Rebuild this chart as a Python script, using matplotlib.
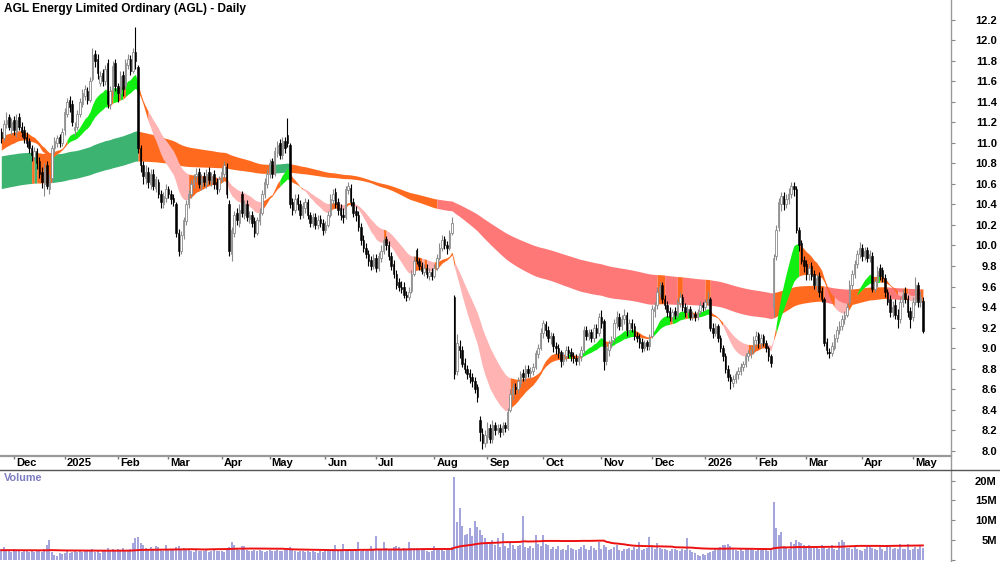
import numpy as np
import pandas as pd
import matplotlib
matplotlib.use('Agg')
import matplotlib.pyplot as plt
from matplotlib.lines import Line2D

plt.rcParams['font.family'] = ['Liberation Sans', 'DejaVu Sans']

title = 'AGL Energy Limited Ordinary (AGL) - Daily'
first_day = '2024-11-25'
last_day = '2026-05-07'
asx_holidays = ['2024-12-25', '2024-12-26', '2025-01-01', '2025-01-27', '2025-04-18',
                '2025-04-21', '2025-04-25', '2025-06-09', '2025-12-25', '2025-12-26',
                '2026-01-01', '2026-01-26', '2026-04-03', '2026-04-06']

# daily prices (one row per two weeks)
opens = [
    11.10, 11.05, 11.18, 11.25, 11.12, 11.22, 11.10, 11.25, 11.15, 11.12,
    11.06, 11.02, 10.95, 10.86, 10.92, 10.82, 10.72, 10.60, 10.78, 10.55,
    10.66, 10.95, 11.00, 11.06, 11.00, 11.12, 11.28, 11.42, 11.38, 11.12,
    11.15, 11.28, 11.38, 11.46, 11.50, 11.42, 11.62, 11.86, 11.82, 11.58,
    11.68, 11.60, 11.78, 11.38, 11.50, 11.78, 11.55, 11.48, 11.66, 11.55,
    11.76, 11.82, 11.70, 11.88, 11.74, 10.95, 10.78, 10.66, 10.72, 10.60,
    10.70, 10.56, 10.62, 10.50, 10.40, 10.46, 10.55, 10.50, 10.46, 10.40,
    10.12, 9.95, 10.10, 10.24, 10.40, 10.50, 10.60, 10.68, 10.72, 10.58,
    10.68, 10.60, 10.72, 10.62, 10.70, 10.62, 10.55, 10.65, 10.70, 10.76,
    10.40, 9.92, 10.12, 10.32, 10.22, 10.50, 10.30, 10.40, 10.26, 10.30,
    10.24, 10.12, 10.24, 10.32, 10.50, 10.60, 10.70, 10.82, 10.70, 10.90,
    11.00, 10.88, 11.02, 11.08, 10.98, 10.42, 10.35, 10.46, 10.40, 10.30,
    10.36, 10.42, 10.30, 10.22, 10.28, 10.20, 10.26, 10.22, 10.15, 10.20,
    10.30, 10.44, 10.52, 10.42, 10.36, 10.30, 10.28, 10.54, 10.56, 10.42,
    10.34, 10.30, 10.18, 10.05, 9.98, 9.92, 9.86, 9.80, 9.88, 9.78,
    9.88, 9.95, 10.06, 10.00, 9.90, 9.82, 9.72, 9.64, 9.60, 9.60,
    9.52, 9.50, 9.56, 9.72, 9.96, 9.85, 9.80, 9.74, 9.78, 9.70,
    9.74, 9.70, 9.78, 9.88, 9.98, 10.06, 10.00, 9.98, 10.12, 9.50,
    8.78, 9.02, 8.98, 8.86, 8.80, 8.76, 8.72, 8.68, 8.62, 8.30,
    8.16, 8.08, 8.14, 8.22, 8.12, 8.25, 8.20, 8.22, 8.18, 8.25,
    8.22, 8.40, 8.55, 8.62, 8.60, 8.66, 8.76, 8.72, 8.80, 8.76,
    8.78, 8.82, 8.94, 9.00, 9.15, 9.24, 9.18, 9.10, 9.12, 9.02,
    9.00, 8.96, 8.88, 8.92, 8.98, 8.96, 8.92, 8.90, 8.88, 8.92,
    8.98, 9.18, 9.12, 9.16, 9.10, 9.20, 9.15, 9.30, 9.26, 8.88,
    8.98, 9.05, 9.10, 9.25, 9.30, 9.22, 9.28, 9.32, 9.18, 9.25,
    9.22, 9.12, 9.10, 9.06, 9.00, 9.06, 9.02, 9.12, 9.36, 9.42,
    9.55, 9.62, 9.48, 9.42, 9.36, 9.30, 9.36, 9.32, 9.44, 9.50,
    9.40, 9.35, 9.38, 9.30, 9.33, 9.30, 9.36, 9.42, 9.40, 9.45,
    9.48, 9.20, 9.15, 9.22, 9.10, 9.00, 8.92, 8.80, 8.72, 8.66,
    8.70, 8.75, 8.78, 8.82, 8.85, 8.92, 8.95, 8.98, 9.08, 9.14,
    9.05, 9.12, 9.05, 9.00, 8.92, 9.40, 9.90, 10.18, 10.40, 10.48,
    10.40, 10.45, 10.50, 10.58, 10.55, 10.15, 10.02, 9.86, 9.82, 9.72,
    9.80, 9.72, 9.62, 9.70, 9.56, 9.48, 9.06, 8.96, 8.95, 9.00,
    9.10, 9.18, 9.22, 9.28, 9.32, 9.45, 9.62, 9.72, 9.82, 9.92,
    9.98, 9.90, 9.96, 9.88, 9.90, 9.58, 9.65, 9.78, 9.76, 9.68,
    9.55, 9.48, 9.35, 9.42, 9.32, 9.28, 9.45, 9.54, 9.48, 9.36,
    9.30, 9.45, 9.62, 9.45, 9.46,
]
highs = [
    11.14, 11.22, 11.30, 11.28, 11.24, 11.26, 11.28, 11.29, 11.20, 11.16,
    11.10, 11.05, 10.98, 10.96, 10.95, 10.86, 10.76, 10.80, 10.82, 10.70,
    10.98, 11.06, 11.08, 11.09, 11.14, 11.34, 11.44, 11.46, 11.42, 11.20,
    11.32, 11.44, 11.52, 11.56, 11.54, 11.64, 11.92, 11.90, 11.86, 11.70,
    11.72, 11.76, 11.82, 11.55, 11.80, 11.82, 11.58, 11.70, 11.70, 11.82,
    11.86, 11.85, 11.92, 12.13, 11.76, 10.98, 10.82, 10.78, 10.76, 10.74,
    10.74, 10.68, 10.65, 10.54, 10.52, 10.60, 10.58, 10.54, 10.50, 10.42,
    10.16, 10.14, 10.28, 10.44, 10.54, 10.64, 10.70, 10.75, 10.75, 10.70,
    10.72, 10.74, 10.76, 10.72, 10.73, 10.66, 10.68, 10.76, 10.82, 10.80,
    10.44, 10.18, 10.34, 10.36, 10.40, 10.53, 10.44, 10.44, 10.34, 10.34,
    10.28, 10.28, 10.36, 10.54, 10.66, 10.74, 10.84, 10.85, 10.96, 11.02,
    11.04, 11.06, 11.06, 11.24, 11.00, 10.46, 10.50, 10.50, 10.44, 10.42,
    10.46, 10.45, 10.33, 10.32, 10.32, 10.30, 10.30, 10.26, 10.24, 10.34,
    10.50, 10.55, 10.56, 10.46, 10.40, 10.36, 10.58, 10.62, 10.60, 10.46,
    10.38, 10.34, 10.22, 10.10, 10.02, 9.96, 9.90, 9.92, 9.92, 9.94,
    10.00, 10.08, 10.09, 10.04, 9.94, 9.86, 9.76, 9.68, 9.65, 9.64,
    9.56, 9.60, 9.76, 9.90, 9.98, 9.88, 9.84, 9.82, 9.82, 9.78,
    9.78, 9.82, 9.92, 10.02, 10.10, 10.09, 10.04, 10.15, 10.28, 9.52,
    9.14, 9.08, 9.02, 8.90, 8.84, 8.80, 8.76, 8.72, 8.65, 8.34,
    8.22, 8.20, 8.28, 8.26, 8.30, 8.28, 8.26, 8.26, 8.28, 8.28,
    8.42, 8.60, 8.66, 8.66, 8.72, 8.78, 8.80, 8.84, 8.84, 8.82,
    8.86, 8.98, 9.04, 9.20, 9.27, 9.26, 9.22, 9.16, 9.15, 9.06,
    9.04, 8.98, 8.96, 9.02, 9.02, 9.00, 8.96, 8.94, 8.95, 9.02,
    9.22, 9.22, 9.19, 9.19, 9.24, 9.24, 9.34, 9.37, 9.28, 9.04,
    9.08, 9.12, 9.28, 9.36, 9.34, 9.32, 9.38, 9.35, 9.28, 9.28,
    9.25, 9.16, 9.14, 9.10, 9.08, 9.08, 9.14, 9.42, 9.45, 9.60,
    9.64, 9.64, 9.52, 9.46, 9.40, 9.38, 9.40, 9.48, 9.55, 9.53,
    9.44, 9.42, 9.41, 9.36, 9.36, 9.38, 9.46, 9.45, 9.48, 9.56,
    9.50, 9.25, 9.25, 9.24, 9.13, 9.03, 8.95, 8.84, 8.75, 8.74,
    8.78, 8.82, 8.86, 8.88, 8.95, 8.98, 9.02, 9.12, 9.17, 9.16,
    9.14, 9.14, 9.08, 9.02, 8.94, 9.92, 10.20, 10.46, 10.52, 10.52,
    10.50, 10.56, 10.62, 10.62, 10.58, 10.18, 10.05, 9.90, 9.86, 9.82,
    9.84, 9.76, 9.72, 9.74, 9.60, 9.50, 9.10, 9.00, 9.06, 9.14,
    9.22, 9.26, 9.32, 9.36, 9.44, 9.66, 9.76, 9.86, 9.96, 10.03,
    10.01, 9.99, 9.99, 9.96, 9.94, 9.68, 9.80, 9.82, 9.79, 9.72,
    9.58, 9.52, 9.46, 9.48, 9.38, 9.50, 9.58, 9.60, 9.52, 9.40,
    9.50, 9.69, 9.64, 9.56, 9.50,
]
lows = [
    11.00, 11.02, 11.14, 11.12, 11.08, 11.08, 11.06, 11.12, 11.06, 11.00,
    10.96, 10.90, 10.82, 10.83, 10.74, 10.66, 10.56, 10.48, 10.55, 10.50,
    10.62, 10.90, 10.96, 10.96, 10.97, 11.08, 11.25, 11.30, 11.16, 11.08,
    11.12, 11.25, 11.35, 11.42, 11.38, 11.40, 11.60, 11.74, 11.62, 11.55,
    11.55, 11.56, 11.34, 11.33, 11.46, 11.50, 11.40, 11.44, 11.46, 11.52,
    11.72, 11.66, 11.68, 11.72, 10.90, 10.72, 10.60, 10.60, 10.56, 10.55,
    10.54, 10.52, 10.46, 10.36, 10.36, 10.42, 10.46, 10.40, 10.38, 10.08,
    9.90, 9.92, 10.06, 10.20, 10.36, 10.46, 10.56, 10.62, 10.56, 10.54,
    10.58, 10.56, 10.60, 10.58, 10.55, 10.50, 10.52, 10.62, 10.66, 10.46,
    9.90, 9.85, 10.08, 10.20, 10.18, 10.28, 10.26, 10.24, 10.22, 10.18,
    10.08, 10.10, 10.20, 10.30, 10.46, 10.56, 10.66, 10.66, 10.68, 10.86,
    10.84, 10.84, 10.90, 10.96, 10.36, 10.30, 10.32, 10.35, 10.26, 10.27,
    10.32, 10.26, 10.18, 10.18, 10.16, 10.16, 10.18, 10.10, 10.12, 10.18,
    10.28, 10.40, 10.36, 10.30, 10.25, 10.22, 10.26, 10.50, 10.38, 10.28,
    10.24, 10.14, 10.00, 9.94, 9.88, 9.80, 9.76, 9.77, 9.74, 9.75,
    9.84, 9.92, 9.96, 9.86, 9.76, 9.68, 9.58, 9.56, 9.54, 9.49,
    9.46, 9.47, 9.54, 9.70, 9.82, 9.76, 9.72, 9.70, 9.68, 9.66,
    9.66, 9.68, 9.76, 9.86, 9.95, 9.97, 9.92, 9.96, 10.10, 8.70,
    8.74, 8.90, 8.82, 8.76, 8.70, 8.66, 8.62, 8.56, 8.48, 8.10,
    8.02, 8.04, 8.08, 8.08, 8.08, 8.15, 8.16, 8.14, 8.15, 8.18,
    8.20, 8.38, 8.50, 8.55, 8.56, 8.62, 8.68, 8.68, 8.72, 8.71,
    8.74, 8.80, 8.90, 8.98, 9.10, 9.12, 9.06, 9.04, 8.96, 8.94,
    8.90, 8.82, 8.84, 8.88, 8.90, 8.88, 8.86, 8.84, 8.84, 8.88,
    8.95, 9.08, 9.08, 9.06, 9.06, 9.10, 9.12, 9.20, 8.79, 8.84,
    8.92, 9.00, 9.06, 9.20, 9.18, 9.18, 9.24, 9.12, 9.14, 9.16,
    9.08, 9.06, 9.00, 8.96, 8.97, 8.98, 8.98, 9.10, 9.30, 9.38,
    9.50, 9.44, 9.38, 9.30, 9.26, 9.26, 9.28, 9.30, 9.40, 9.36,
    9.30, 9.32, 9.27, 9.27, 9.26, 9.27, 9.33, 9.36, 9.37, 9.42,
    9.17, 9.10, 9.12, 9.06, 8.96, 8.88, 8.76, 8.68, 8.60, 8.62,
    8.66, 8.70, 8.74, 8.78, 8.82, 8.88, 8.90, 8.94, 9.02, 9.00,
    9.00, 9.02, 8.96, 8.88, 8.82, 9.30, 9.86, 10.14, 10.34, 10.35,
    10.36, 10.40, 10.46, 10.48, 10.12, 9.95, 9.82, 9.74, 9.66, 9.66,
    9.66, 9.58, 9.56, 9.50, 9.45, 9.02, 8.94, 8.90, 8.92, 8.98,
    9.06, 9.14, 9.18, 9.24, 9.30, 9.42, 9.58, 9.68, 9.78, 9.88,
    9.85, 9.86, 9.84, 9.84, 9.55, 9.55, 9.60, 9.66, 9.64, 9.50,
    9.42, 9.30, 9.30, 9.28, 9.20, 9.25, 9.40, 9.44, 9.30, 9.20,
    9.26, 9.42, 9.40, 9.40, 9.15,
]
closes = [
    11.05, 11.18, 11.22, 11.15, 11.20, 11.12, 11.22, 11.15, 11.10, 11.05,
    11.00, 10.95, 10.88, 10.92, 10.80, 10.70, 10.62, 10.75, 10.58, 10.65,
    10.95, 11.02, 11.05, 11.00, 11.10, 11.30, 11.40, 11.35, 11.20, 11.15,
    11.28, 11.40, 11.48, 11.52, 11.42, 11.60, 11.85, 11.80, 11.68, 11.65,
    11.60, 11.72, 11.38, 11.50, 11.75, 11.55, 11.48, 11.65, 11.52, 11.78,
    11.82, 11.70, 11.88, 11.80, 10.95, 10.78, 10.68, 10.72, 10.62, 10.70,
    10.58, 10.65, 10.50, 10.42, 10.48, 10.55, 10.50, 10.45, 10.42, 10.12,
    9.95, 10.10, 10.25, 10.40, 10.50, 10.60, 10.65, 10.70, 10.60, 10.66,
    10.62, 10.70, 10.64, 10.68, 10.60, 10.55, 10.65, 10.72, 10.78, 10.50,
    9.95, 10.15, 10.30, 10.25, 10.35, 10.32, 10.40, 10.28, 10.30, 10.22,
    10.12, 10.25, 10.32, 10.50, 10.62, 10.70, 10.80, 10.70, 10.92, 10.98,
    10.88, 11.02, 10.95, 11.00, 10.40, 10.35, 10.45, 10.40, 10.30, 10.38,
    10.42, 10.30, 10.22, 10.28, 10.20, 10.25, 10.22, 10.15, 10.20, 10.30,
    10.45, 10.50, 10.40, 10.35, 10.30, 10.28, 10.55, 10.58, 10.42, 10.32,
    10.30, 10.18, 10.05, 9.98, 9.92, 9.85, 9.80, 9.88, 9.78, 9.90,
    9.95, 10.05, 10.00, 9.90, 9.80, 9.72, 9.62, 9.60, 9.58, 9.52,
    9.50, 9.55, 9.72, 9.85, 9.85, 9.80, 9.75, 9.78, 9.72, 9.74,
    9.70, 9.78, 9.88, 9.98, 10.05, 10.00, 9.98, 10.12, 10.22, 8.75,
    9.05, 8.98, 8.85, 8.80, 8.75, 8.72, 8.68, 8.60, 8.52, 8.18,
    8.08, 8.15, 8.22, 8.12, 8.25, 8.20, 8.22, 8.18, 8.24, 8.22,
    8.38, 8.55, 8.62, 8.60, 8.68, 8.75, 8.72, 8.80, 8.76, 8.78,
    8.82, 8.95, 9.00, 9.15, 9.25, 9.18, 9.10, 9.12, 9.02, 9.00,
    8.95, 8.88, 8.92, 8.98, 8.95, 8.92, 8.90, 8.88, 8.92, 8.98,
    9.18, 9.12, 9.15, 9.10, 9.20, 9.15, 9.30, 9.25, 8.88, 9.00,
    9.05, 9.08, 9.25, 9.30, 9.22, 9.28, 9.32, 9.18, 9.25, 9.20,
    9.12, 9.10, 9.05, 9.00, 9.05, 9.02, 9.10, 9.38, 9.40, 9.55,
    9.60, 9.48, 9.42, 9.35, 9.30, 9.35, 9.32, 9.45, 9.50, 9.40,
    9.35, 9.38, 9.30, 9.33, 9.30, 9.35, 9.42, 9.40, 9.45, 9.48,
    9.20, 9.15, 9.22, 9.10, 9.00, 8.92, 8.80, 8.72, 8.68, 8.70,
    8.75, 8.78, 8.82, 8.85, 8.92, 8.95, 8.98, 9.08, 9.12, 9.05,
    9.10, 9.05, 9.00, 8.92, 8.86, 9.88, 10.15, 10.42, 10.48, 10.40,
    10.45, 10.50, 10.58, 10.55, 10.15, 10.00, 9.85, 9.80, 9.72, 9.78,
    9.70, 9.62, 9.68, 9.55, 9.48, 9.05, 8.98, 8.95, 9.02, 9.10,
    9.18, 9.22, 9.28, 9.32, 9.40, 9.62, 9.72, 9.82, 9.92, 9.98,
    9.90, 9.95, 9.88, 9.92, 9.58, 9.65, 9.75, 9.70, 9.68, 9.55,
    9.45, 9.35, 9.40, 9.32, 9.28, 9.45, 9.52, 9.48, 9.35, 9.28,
    9.45, 9.62, 9.45, 9.50, 9.17,
]
# volume in millions of shares
volumes = [
    2.8, 3.2, 2.4, 2.2, 2.0, 2.6, 2.1, 2.3, 1.9, 2.4,
    2.2, 2.0, 2.5, 1.9, 2.1, 2.3, 2.0, 2.8, 3.6, 4.9,
    2.0, 1.2, 1.0, 1.6, 1.4, 1.8, 2.1, 1.7, 2.0, 2.2,
    1.9, 2.3, 2.0, 2.4, 2.2, 2.1, 2.6, 2.0, 2.2, 1.8,
    2.2, 2.5, 3.0, 2.4, 2.6, 2.1, 2.8, 2.3, 3.0, 2.5,
    2.2, 2.6, 4.2, 5.6, 5.8, 4.3, 3.6, 3.0, 2.6, 3.1,
    2.4, 3.5, 3.3, 2.5, 2.2, 3.8, 2.6, 2.5, 2.8, 3.2,
    3.4, 2.8, 3.0, 2.6, 2.4, 2.2, 2.0, 2.4, 2.3, 2.1,
    2.3, 2.5, 2.0, 2.2, 2.6, 2.1, 2.3, 2.2, 2.0, 3.0,
    3.2, 4.6, 3.6, 2.6, 2.4, 3.5, 3.4, 2.4, 2.3, 2.1,
    2.4, 2.2, 2.5, 2.2, 2.0, 2.3, 2.4, 2.1, 2.2, 2.5,
    2.3, 2.2, 2.4, 2.6, 3.2, 2.4, 2.2, 2.0, 2.1, 2.3,
    2.0, 2.2, 1.9, 2.1, 2.0, 1.8, 2.2, 2.0, 2.4, 2.1,
    2.3, 2.6, 3.6, 2.4, 2.2, 4.0, 2.5, 2.2, 2.1, 2.6,
    2.5, 4.5, 2.3, 2.6, 2.2, 2.4, 3.4, 2.6, 6.0, 2.8,
    2.4, 4.5, 3.0, 2.8, 2.5, 3.2, 3.4, 3.2, 2.8, 3.0,
    2.8, 4.5, 3.0, 3.0, 2.9, 2.6, 2.8, 2.4, 2.2, 2.0,
    2.3, 3.5, 2.8, 2.4, 2.6, 2.2, 2.8, 2.6, 3.2, 20.9,
    9.5, 13.0, 8.6, 6.3, 6.5, 7.9, 5.9, 9.8, 8.2, 7.5,
    6.3, 5.5, 4.0, 4.0, 5.0, 3.8, 5.5, 3.2, 6.8, 3.5,
    3.0, 4.2, 3.6, 2.8, 3.4, 3.8, 11.1, 3.2, 3.0, 3.5,
    3.0, 6.3, 4.0, 3.4, 6.2, 4.0, 3.6, 2.8, 3.2, 2.6,
    3.4, 2.4, 2.8, 2.5, 3.6, 3.0, 2.8, 2.4, 2.6, 3.2,
    3.8, 2.6, 2.5, 3.5, 3.0, 2.4, 4.4, 2.8, 3.6, 3.2,
    2.4, 2.6, 3.2, 3.6, 2.5, 2.2, 2.8, 2.6, 3.0, 2.4,
    3.2, 2.6, 4.4, 2.4, 2.8, 3.0, 5.7, 3.4, 2.8, 4.3,
    3.0, 2.6, 2.8, 2.4, 2.2, 2.6, 2.8, 2.4, 2.2, 2.6,
    2.5, 5.4, 2.4, 2.0, 1.6, 1.2, 1.0, 1.4, 1.2, 1.6,
    2.0, 2.2, 2.6, 2.8, 3.2, 3.6, 3.8, 4.0, 3.4, 2.6,
    2.4, 2.2, 2.6, 2.2, 2.8, 3.0, 2.6, 2.4, 2.2, 2.6,
    2.4, 2.8, 2.5, 2.2, 2.6, 14.5, 8.0, 6.3, 7.0, 3.4,
    3.0, 2.8, 4.6, 4.0, 5.0, 4.4, 4.2, 3.6, 3.2, 3.8,
    3.0, 3.2, 3.4, 2.8, 3.6, 3.2, 2.8, 3.0, 3.6, 2.6,
    2.4, 4.6, 5.0, 4.4, 3.0, 3.0, 2.8, 3.2, 2.6, 2.4,
    2.2, 2.8, 3.6, 3.4, 3.0, 2.6, 2.4, 3.2, 2.6, 2.2,
    3.6, 3.2, 2.8, 3.0, 2.6, 3.9, 2.6, 2.8, 4.0, 2.4,
    2.6, 3.2, 2.8, 3.5, 3.0,
]

# moving average ribbons (fast group, slow group) and their values at the left edge
short_periods = [15, 18, 21, 24, 27, 30]
short_start = [11.02, 11.05, 11.06, 11.04, 10.98, 10.92]
long_periods = [150, 170, 190, 210, 230, 250]
long_start = [10.87, 10.81, 10.75, 10.69, 10.62, 10.55]
vol_avg_period = 60
vol_avg_start = 2.4

price_ticks = [8.0, 8.2, 8.4, 8.6, 8.8, 9.0, 9.2, 9.4, 9.6, 9.8, 10.0, 10.2,
               10.4, 10.6, 10.8, 11.0, 11.2, 11.4, 11.6, 11.8, 12.0, 12.2]
vol_ticks = [0, 5, 10, 15, 20]
vol_labels = ['', '5M', '10M', '15M', '20M']


def ema(values, period, start):
    a = 2.0 / (period + 1)
    out = np.empty(len(values))
    prev = start
    for i, v in enumerate(values):
        prev = prev + a * (v - prev)
        out[i] = prev
    return out


def draw_ribbon(ax, x, closes, periods, starts, colors, z):
    lines = np.vstack([ema(closes, p, s) for p, s in zip(periods, starts)])
    prev = np.hstack([np.array(starts)[:, None], lines[:, :-1]])
    bull = np.all(lines > prev, axis=0) & np.all(lines[:-1] > lines[1:], axis=0)
    bear = np.all(lines < prev, axis=0) & np.all(lines[:-1] < lines[1:], axis=0)
    state = np.where(bull, 1, np.where(bear, -1, 0))
    lo, hi = lines.min(axis=0), lines.max(axis=0)
    start = 0
    for i in range(1, len(x) + 1):
        if i == len(x) or state[i] != state[start]:
            end = min(i + 1, len(x))
            ax.fill_between(x[start:end], lo[start:end], hi[start:end],
                            color=colors[state[start]], lw=0, zorder=z)
            start = i


n = len(closes)
x = np.arange(n)
o = np.array(opens)
h = np.array(highs)
l = np.array(lows)
c = np.array(closes)
v = np.array(volumes)

dates = pd.bdate_range(first_day, last_day)
dates = dates[~dates.isin(pd.to_datetime(asx_holidays))][:n]

W, H = 1000, 562
fig = plt.figure(figsize=(10, 5.62), dpi=100)
axis_x = 951 / W
xmin, xmax = -0.51, 375.1

# price panel
ax = fig.add_axes([0, 107 / H, axis_x, 455 / H])
ax.set_xlim(xmin, xmax)
ax.set_ylim(7.96, 12.39)

orange = '#ff6a1f'
draw_ribbon(ax, x, closes, long_periods, long_start,
            {1: '#3cb371', -1: '#ff7878', 0: orange}, 1)
draw_ribbon(ax, x, closes, short_periods, short_start,
            {1: '#11ee11', -1: '#ffb3b3', 0: orange}, 2)

up = c >= o
ax.vlines(x[up], l[up], h[up], color='#8a8a8a', lw=0.8, zorder=3)
ax.vlines(x[~up], l[~up], h[~up], color='black', lw=0.8, zorder=3)
ax.bar(x[up], c[up] - o[up], bottom=o[up], width=0.6, facecolor='white',
       edgecolor='#8a8a8a', lw=0.6, zorder=4)
ax.bar(x[~up], o[~up] - c[~up], bottom=c[~up], width=0.6, facecolor='black',
       edgecolor='black', lw=0.4, zorder=4)

ax.set_xticks([])
ax.set_yticks(price_ticks)
ax.set_yticklabels([f'{t:.1f}' for t in price_ticks])
for s in ax.spines.values():
    s.set_visible(False)
ax.tick_params(axis='y', left=False, right=True, labelleft=False, labelright=True,
               length=3, width=0.8, color='#888888', pad=30, labelsize=8)
plt.setp(ax.get_yticklabels(), ha='right', fontweight='bold')

# date strip
axd = fig.add_axes([0, 93 / H, axis_x, 14 / H])
axd.set_xlim(xmin, xmax)
axd.set_ylim(0, 1)
axd.axis('off')
month_starts = [i for i in range(1, n) if dates[i].month != dates[i - 1].month]
for i in month_starts:
    d = dates[i]
    label = str(d.year) if d.month == 1 else d.strftime('%b')
    axd.vlines(i, 0.72, 1.0, color='#777777', lw=1)
    axd.text(i + 0.8, 0.42, label, ha='left', va='center', fontsize=8,
             fontweight='bold')

# volume panel
axv = fig.add_axes([0, 0, axis_x, 92 / H])
axv.set_xlim(xmin, xmax)
axv.set_ylim(-0.58, 22.7)
axv.vlines(x, 0, v, color='#9494d8', lw=1.2, zorder=2)
vol_avg = pd.Series(np.concatenate([np.full(vol_avg_period - 1, vol_avg_start), v]))
vol_avg = vol_avg.rolling(vol_avg_period).mean().to_numpy()[vol_avg_period - 1:]
axv.plot(x, vol_avg, color='#ee1111', lw=1.4, zorder=3)
axv.set_xticks([])
axv.set_yticks(vol_ticks)
axv.set_yticklabels(vol_labels)
for s in axv.spines.values():
    s.set_visible(False)
axv.tick_params(axis='y', left=False, right=True, labelleft=False, labelright=True,
                length=3, width=0.8, color='#888888', pad=30, labelsize=8)
plt.setp(axv.get_yticklabels(), ha='right', fontweight='bold')

# frame lines
fig.add_artist(Line2D([axis_x, axis_x], [0, 1], color='#999999', lw=1))
fig.add_artist(Line2D([0, axis_x], [1 - 455.5 / H] * 2, color='#999999', lw=1.6))
fig.add_artist(Line2D([0, 1], [1 - 469.5 / H] * 2, color='#555555', lw=1))

fig.text(4 / W, 1 - 9 / H, title, ha='left', va='center', fontsize=8.6,
         fontweight='bold')
fig.text(4 / W, 1 - 478 / H, 'Volume', ha='left', va='center', fontsize=7.8,
         fontweight='bold', color='#7c7cc0')

fig.savefig('out.png', dpi=100)
